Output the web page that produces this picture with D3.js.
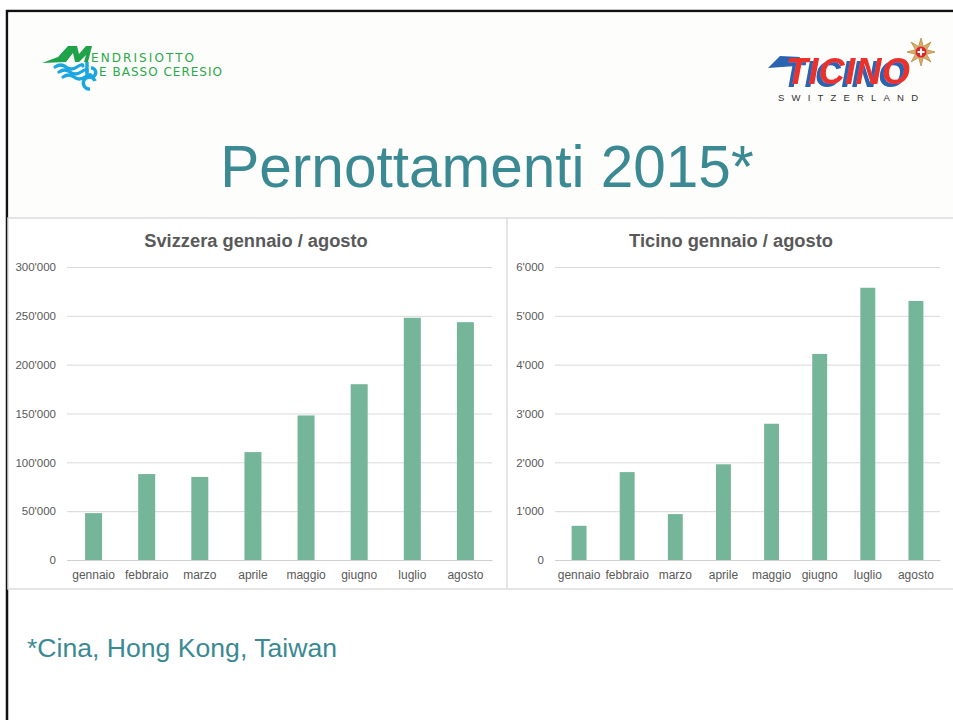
<!DOCTYPE html>
<html>
<head>
<meta charset="utf-8">
<script src="https://cdn.jsdelivr.net/npm/d3@7"></script>
<style>
  body { margin: 0; background: #fff; }
  svg { display: block; font-family: "Liberation Sans", Arial, sans-serif; }
</style>
</head>
<body>
<svg id="slide" width="953" height="720"></svg>
<script>
// data
const months = ["gennaio", "febbraio", "marzo", "aprile", "maggio", "giugno", "luglio", "agosto"];
const svizzera = [48000, 88000, 85000, 110500, 148000, 180000, 248000, 243500];
const ticino = [700, 1800, 940, 1960, 2790, 4220, 5575, 5305];
const svizzeraTicks = [0, 50000, 100000, 150000, 200000, 250000, 300000];
const ticinoTicks = [0, 1000, 2000, 3000, 4000, 5000, 6000];

const teal = "#3b8a93";
const barColor = "#75b69a";
const gridColor = "#d9d9d9";
const textGray = "#595959";

const fmt = d3.formatLocale({ decimal: ".", thousands: "'", grouping: [3], currency: ["", ""] }).format(",");

const svg = d3.select("#slide");

// blue offset shadow for the Ticino lettering
const defs = svg.append("defs");
const shadow = defs.append("filter").attr("id", "blueShadow")
  .attr("x", "-20%").attr("y", "-20%").attr("width", "140%").attr("height", "150%");
shadow.append("feOffset").attr("in", "SourceAlpha").attr("dx", -4).attr("dy", 3).attr("result", "off");
shadow.append("feFlood").attr("flood-color", "#2a63b0");
shadow.append("feComposite").attr("in2", "off").attr("operator", "in").attr("result", "sh");
const merge = shadow.append("feMerge");
merge.append("feMergeNode").attr("in", "sh");
merge.append("feMergeNode").attr("in", "SourceGraphic");

// slide frame
svg.append("rect").attr("x", 7).attr("y", 11).attr("width", 960).attr("height", 720)
  .attr("fill", "#fff").attr("stroke", "#111").attr("stroke-width", 2.5);
svg.append("rect").attr("x", 8.5).attr("y", 12.5).attr("width", 950).attr("height", 205)
  .attr("fill", "#fdfdfb");

////////// logos //////////

// Mendrisiotto e Basso Ceresio
const mlogo = svg.append("g");
mlogo.append("path")
  .attr("d", "M42,63 L58,57 L68,46 L77,46 L79,54 L86,46 L92,46 L88,62 L84,62 L86,55 L79,62 L75,62 L73,53 L66,62 Z")
  .attr("fill", "#1fa24a");
[[55, 67], [59, 72], [63, 77]].forEach(function (p) {
  mlogo.append("path")
    .attr("d", "M" + p[0] + "," + p[1] + " q6,-4 11,0 t11,0 t6,-1")
    .attr("fill", "none").attr("stroke", "#1aa6e0").attr("stroke-width", 3.2).attr("stroke-linecap", "round");
});
mlogo.append("path")
  .attr("d", "M87,62 L87,74 A4.5,4.5 0 1,0 91,68")
  .attr("fill", "none").attr("stroke", "#1aa6e0").attr("stroke-width", 3.5);
mlogo.append("path")
  .attr("d", "M95,81 A6,6 0 1,0 90,89")
  .attr("fill", "none").attr("stroke", "#1aa6e0").attr("stroke-width", 3.5);
mlogo.append("text").attr("x", 91).attr("y", 62)
  .attr("font-family", "'DejaVu Sans', sans-serif").attr("font-size", 12)
  .attr("fill", "#2aa84a").attr("textLength", 103).text("ENDRISIOTTO");
mlogo.append("text").attr("x", 99).attr("y", 76)
  .attr("font-family", "'DejaVu Sans', sans-serif").attr("font-size", 12)
  .attr("fill", "#2aa84a").attr("textLength", 123).text("E BASSO CERESIO");

// Ticino Switzerland
const tlogo = svg.append("g");
tlogo.append("path")
  .attr("d", "M768,68 L780,56 L800,57 L796,66 Z").attr("fill", "#2a63b0");
tlogo.append("text").attr("x", 786).attr("y", 84)
  .attr("font-size", 36).attr("font-weight", "bold").attr("font-style", "italic")
  .attr("fill", "#e8312a").attr("textLength", 124).attr("filter", "url(#blueShadow)").text("TICINO");
tlogo.append("text").attr("x", 778).attr("y", 101)
  .attr("font-size", 9.5).attr("fill", "#333").attr("textLength", 140).text("SWITZERLAND");
const star = d3.range(16).map(function (i) {
  const r = i % 2 === 0 ? 14 : 6;
  const a = (i / 16) * 2 * Math.PI - Math.PI / 2;
  return [921 + r * Math.cos(a), 52 + r * Math.sin(a)];
});
tlogo.append("path").attr("d", d3.line()(star) + "Z").attr("fill", "#d9ad6a").attr("stroke", "#b88a45").attr("stroke-width", 0.8);
tlogo.append("circle").attr("cx", 921).attr("cy", 52).attr("r", 5.5).attr("fill", "#d8262c");
tlogo.append("path").attr("d", "M921,48.5 V55.5 M917.5,52 H924.5").attr("stroke", "#fff").attr("stroke-width", 2);

////////// title //////////

svg.append("text").attr("x", 487).attr("y", 187).attr("text-anchor", "middle")
  .attr("font-size", 58.5).attr("fill", teal).text("Pernottamenti 2015*");

svg.append("text").attr("x", 27).attr("y", 657)
  .attr("font-size", 26.6).attr("fill", teal).text("*Cina, Hong Kong, Taiwan");

////////// chart panels //////////

svg.append("rect").attr("x", 8).attr("y", 218).attr("width", 950).attr("height", 371)
  .attr("fill", "#fff").attr("stroke", "#dcdcdc").attr("stroke-width", 1.5);
svg.append("line").attr("x1", 507).attr("x2", 507).attr("y1", 218).attr("y2", 589)
  .attr("stroke", "#dcdcdc").attr("stroke-width", 1.5);

function drawChart(cfg) {
  const g = svg.append("g");
  const x = d3.scaleBand().domain(months).range([cfg.x0, cfg.x1])
    .paddingInner(cfg.pad).paddingOuter(cfg.pad / 2);
  const y = d3.scaleLinear().domain([0, cfg.max]).range([560, 267]);

  g.append("text").attr("x", cfg.titleX).attr("y", 247).attr("text-anchor", "middle")
    .attr("font-size", 18.3).attr("font-weight", "bold").attr("fill", textGray).text(cfg.title);

  const yAxis = g.append("g").attr("transform", "translate(" + cfg.x0 + ",0)")
    .call(d3.axisLeft(y).tickValues(cfg.ticks).tickFormat(fmt)
      .tickSize(-(cfg.x1 - cfg.x0)).tickPadding(11));
  yAxis.select(".domain").remove();
  yAxis.selectAll(".tick line").attr("stroke", gridColor);
  yAxis.selectAll(".tick text").attr("fill", textGray).attr("font-size", 11.5)
    .attr("font-family", "'Liberation Sans', Arial, sans-serif");

  g.selectAll(".bar").data(cfg.values).enter().append("rect")
    .attr("class", "bar")
    .attr("x", function (d, i) { return x(months[i]); })
    .attr("y", function (d) { return y(d); })
    .attr("width", x.bandwidth())
    .attr("height", function (d) { return y(0) - y(d); })
    .attr("fill", barColor);

  const xAxis = g.append("g").attr("transform", "translate(0,560)")
    .call(d3.axisBottom(x).tickSize(0).tickPadding(10));
  xAxis.select(".domain").attr("stroke", "#cfcfcf");
  xAxis.selectAll(".tick text").attr("fill", textGray).attr("font-size", 12)
    .attr("font-family", "'Liberation Sans', Arial, sans-serif");
}

drawChart({ x0: 67, x1: 492, pad: 0.68, max: 300000, ticks: svizzeraTicks,
  values: svizzera, title: "Svizzera gennaio / agosto", titleX: 256 });
drawChart({ x0: 555, x1: 940, pad: 0.69, max: 6000, ticks: ticinoTicks,
  values: ticino, title: "Ticino gennaio / agosto", titleX: 731 });
</script>
</body>
</html>
